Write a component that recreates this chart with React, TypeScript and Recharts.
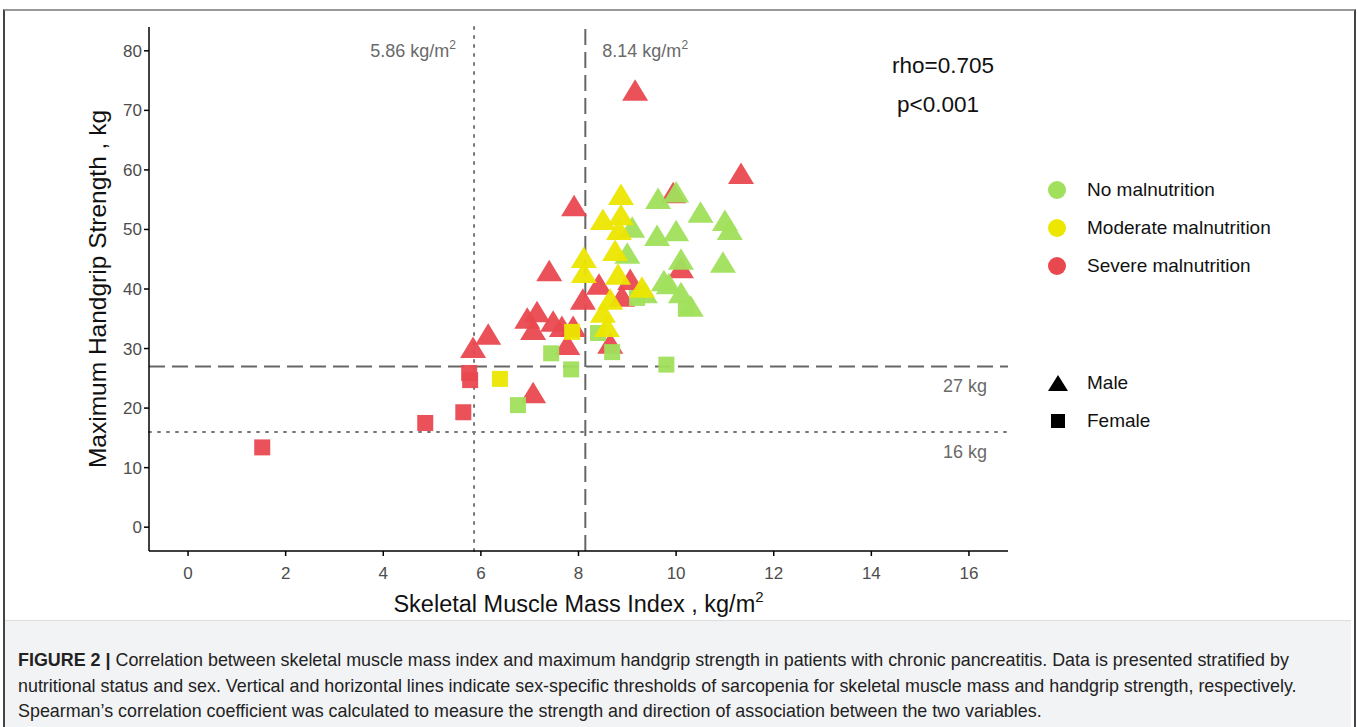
import React from "react";
import { ReferenceLine, Scatter, ScatterChart, XAxis, YAxis } from "recharts";

// x = skeletal muscle mass index (kg/m2), y = max handgrip strength (kg)
const severeMale = [
  [9.16, 73.3], [11.33, 59.3], [9.94, 56.1], [7.91, 53.9], [7.4, 43.0],
  [10.1, 43.5], [8.42, 40.7], [9.06, 41.5], [8.89, 38.7], [8.09, 38.2],
  [7.15, 36.1], [6.95, 35.0], [7.48, 34.5], [7.07, 33.1], [7.66, 33.6],
  [7.89, 33.6], [7.77, 30.6], [8.65, 30.8], [5.84, 30.1], [6.15, 32.3],
  [7.07, 22.5],
];
const severeFemale = [[5.76, 25.9], [5.78, 24.7], [5.64, 19.3], [4.86, 17.5], [1.52, 13.4]];

const noneMale = [
  [9.63, 55.1], [10.0, 56.2], [10.5, 52.8], [11.0, 51.4], [11.1, 49.9],
  [9.61, 48.9], [10.0, 49.7], [10.1, 44.9], [10.96, 44.4], [9.1, 50.3],
  [9.0, 45.9], [9.75, 41.3], [9.85, 40.8], [10.1, 39.3], [9.36, 39.3],
  [10.3, 37.0],
];
const noneFemale = [
  [7.44, 29.2], [7.85, 26.5], [6.76, 20.5], [8.4, 32.6], [8.69, 29.4],
  [9.8, 27.3], [10.2, 36.8], [9.2, 38.5],
];

const moderateMale = [
  [8.87, 55.8], [8.5, 51.6], [8.87, 52.4], [8.83, 49.9], [8.75, 46.4],
  [8.11, 45.2], [8.11, 42.7], [8.81, 42.4], [9.3, 40.2], [8.65, 38.2],
  [8.5, 36.0], [8.58, 33.6],
];
const moderateFemale = [[6.39, 24.9], [7.87, 32.8]];

const xTicks = [0, 2, 4, 6, 8, 10, 12, 14, 16];
const yTicks = [0, 10, 20, 30, 40, 50, 60, 70, 80];

const GREEN = "#a0e05c";
const YELLOW = "#ece600";
const RED = "#e9484f";
const FONT = "'Liberation Sans', Arial, sans-serif";

const toPoints = (arr: number[][]) => arr.map(([smi, hgs]) => ({ smi, hgs }));

const Triangle = (props: any) => {
  const { cx, cy, fill } = props;
  return (
    <polygon
      points={`${cx},${cy - 11.5} ${cx + 13},${cy + 10} ${cx - 13},${cy + 10}`}
      fill={fill}
      fillOpacity={0.95}
    />
  );
};

const Square = (props: any) => {
  const { cx, cy, fill } = props;
  return <rect x={cx - 8} y={cy - 8} width={16} height={16} fill={fill} fillOpacity={0.95} />;
};

const lineLabel = (text: string, sup: boolean, dx: number, dy: number, anchor: string) => (props: any) => {
  const { viewBox } = props;
  return (
    <text
      x={viewBox.x + dx}
      y={viewBox.y + dy}
      textAnchor={anchor}
      fontFamily={FONT}
      fontSize={18}
      fill="#6a6a6a"
    >
      {text}
      {sup && (
        <tspan dy={-8} fontSize={12}>
          2
        </tspan>
      )}
    </text>
  );
};

const XTick = (props: any) => {
  const { x, y, payload } = props;
  return (
    <text x={x} y={y + 21} textAnchor="middle" fontFamily={FONT} fontSize={17} fill="#4d4d4d">
      {payload.value}
    </text>
  );
};

const legendRow: React.CSSProperties = {
  position: "absolute",
  left: 1047,
  display: "flex",
  alignItems: "center",
  fontFamily: FONT,
  fontSize: 19,
  color: "#111",
};

export default function App() {
  return (
    <div style={{ position: "fixed", left: 0, top: 0, width: 1357, height: 727, background: "#fff", overflow: "hidden" }}>
      <div
        style={{
          position: "absolute",
          left: 3,
          top: 9,
          width: 1349,
          height: 730,
          borderLeft: "2px solid #444",
          borderRight: "2px solid #444",
          borderTop: "2px solid #999",
        }}
      />
      <div style={{ position: "absolute", left: 0, top: 0 }}>
        <ScatterChart width={1357} height={620} margin={{ top: 27, right: 349, left: 89, bottom: 39 }}>
          <XAxis
            type="number"
            dataKey="smi"
            domain={[-0.8, 16.8]}
            ticks={xTicks}
            allowDataOverflow
            height={30}
            stroke="#000"
            strokeWidth={1.5}
            tickSize={5}
            tick={<XTick />}
            label={(props: any) => {
              const vb = props.viewBox;
              return (
                <text x={vb.x + vb.width / 2} y={vb.y + 61} textAnchor="middle" fontFamily={FONT} fontSize={23.5} fill="#111">
                  Skeletal Muscle Mass Index , kg/m
                  <tspan dy={-10} fontSize={15}>
                    2
                  </tspan>
                </text>
              );
            }}
          />
          <YAxis
            type="number"
            dataKey="hgs"
            domain={[-4, 84]}
            ticks={yTicks}
            allowDataOverflow
            width={60}
            stroke="#000"
            strokeWidth={1.5}
            tickSize={5}
            tick={{ fill: "#4d4d4d", fontSize: 17, fontFamily: FONT }}
            label={(props: any) => {
              const vb = props.viewBox;
              const cx = vb.x + 8;
              const cy = vb.y + vb.height / 2;
              return (
                <text
                  x={cx}
                  y={cy}
                  transform={`rotate(-90 ${cx} ${cy})`}
                  textAnchor="middle"
                  dominantBaseline="central"
                  fontFamily={FONT}
                  fontSize={24.5}
                  fill="#111"
                >
                  Maximum Handgrip Strength , kg
                </text>
              );
            }}
          />
          <ReferenceLine
            x={5.86}
            stroke="#777"
            strokeWidth={2}
            strokeDasharray="2 7"
            strokeLinecap="round"
            label={lineLabel("5.86 kg/m", true, -18, 30, "end")}
          />
          <ReferenceLine
            x={8.14}
            stroke="#666"
            strokeWidth={2}
            strokeDasharray="16 7"
            label={lineLabel("8.14 kg/m", true, 17, 30, "start")}
          />
          <ReferenceLine
            y={27}
            stroke="#666"
            strokeWidth={2}
            strokeDasharray="16 7"
            label={lineLabel("27 kg", false, 816, 26, "middle")}
          />
          <ReferenceLine
            y={16}
            stroke="#777"
            strokeWidth={2}
            strokeDasharray="2 7"
            strokeLinecap="round"
            label={lineLabel("16 kg", false, 816, 26, "middle")}
          />
          <Scatter data={toPoints(severeMale)} fill={RED} shape={Triangle} isAnimationActive={false} />
          <Scatter data={toPoints(severeFemale)} fill={RED} shape={Square} isAnimationActive={false} />
          <Scatter data={toPoints(noneMale)} fill={GREEN} shape={Triangle} isAnimationActive={false} />
          <Scatter data={toPoints(noneFemale)} fill={GREEN} shape={Square} isAnimationActive={false} />
          <Scatter data={toPoints(moderateMale)} fill={YELLOW} shape={Triangle} isAnimationActive={false} />
          <Scatter data={toPoints(moderateFemale)} fill={YELLOW} shape={Square} isAnimationActive={false} />
        </ScatterChart>
      </div>

      <div style={{ position: "absolute", left: 892, top: 53, fontFamily: FONT, fontSize: 22.5, color: "#111" }}>rho=0.705</div>
      <div style={{ position: "absolute", left: 897, top: 92, fontFamily: FONT, fontSize: 22.5, color: "#111" }}>p&lt;0.001</div>

      {[
        { label: "No malnutrition", color: GREEN, top: 179 },
        { label: "Moderate malnutrition", color: YELLOW, top: 217 },
        { label: "Severe malnutrition", color: RED, top: 255 },
      ].map((d) => (
        <div key={d.label} style={{ ...legendRow, top: d.top }}>
          <span style={{ width: 18, height: 18, borderRadius: "50%", background: d.color, marginLeft: 1 }} />
          <span style={{ marginLeft: 21 }}>{d.label}</span>
        </div>
      ))}
      <div style={{ ...legendRow, top: 372 }}>
        <svg width={22} height={20}>
          <polygon points="11,2 21,18 1,18" fill="#000" />
        </svg>
        <span style={{ marginLeft: 18 }}>Male</span>
      </div>
      <div style={{ ...legendRow, top: 410 }}>
        <svg width={22} height={20}>
          <rect x={4} y={3} width={14} height={14} fill="#000" />
        </svg>
        <span style={{ marginLeft: 18 }}>Female</span>
      </div>

      <div
        style={{
          position: "absolute",
          left: 5,
          top: 620,
          width: 1346,
          height: 110,
          background: "#f2f3f5",
          borderTop: "1px solid #ddd",
        }}
      />
      <div
        style={{
          position: "absolute",
          left: 18,
          top: 648,
          width: 1330,
          fontFamily: FONT,
          fontSize: 17.9,
          lineHeight: "25.5px",
          color: "#222",
          whiteSpace: "nowrap",
        }}
      >
        <b>FIGURE 2 |</b> Correlation between skeletal muscle mass index and maximum handgrip strength in patients with chronic pancreatitis. Data is presented stratified by
        <br />
        nutritional status and sex. Vertical and horizontal lines indicate sex-specific thresholds of sarcopenia for skeletal muscle mass and handgrip strength, respectively.
        <br />
        Spearman’s correlation coefficient was calculated to measure the strength and direction of association between the two variables.
      </div>
    </div>
  );
}
